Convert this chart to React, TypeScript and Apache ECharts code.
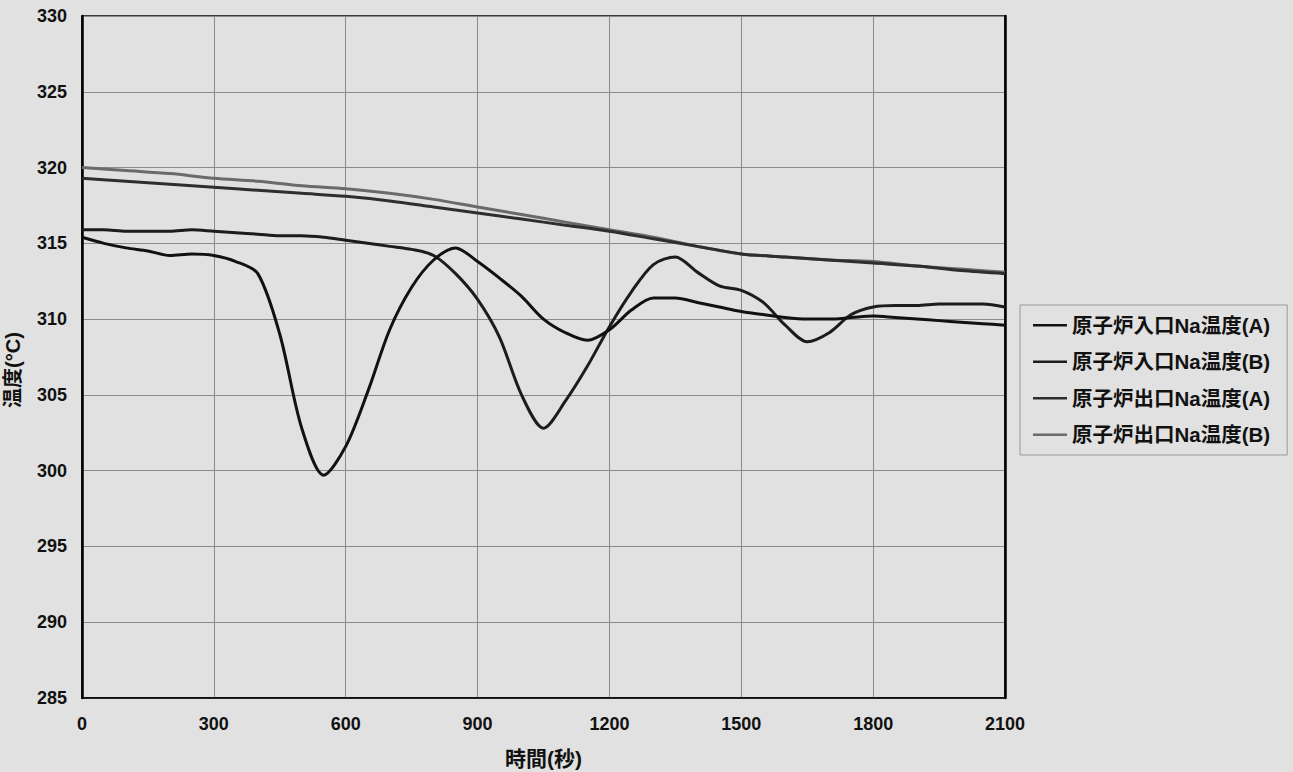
import React, { useEffect, useRef } from "react";
import * as echarts from "echarts";

const seriesNames = [
  "原子炉入口Na温度(A)",
  "原子炉入口Na温度(B)",
  "原子炉出口Na温度(A)",
  "原子炉出口Na温度(B)",
];

// time (s), 50 s steps, for the inlet curves
const timeFine = [
  0, 50, 100, 150, 200, 250, 300, 350, 400, 450, 500, 550, 600, 650, 700, 750, 800, 850, 900, 950, 1000,
  1050, 1100, 1150, 1200, 1250, 1300, 1350, 1400, 1450, 1500, 1550, 1600, 1650, 1700, 1750, 1800, 1850,
  1900, 1950, 2000, 2050, 2100,
];

const inletA = [
  315.4, 315.0, 314.7, 314.5, 314.2, 314.3, 314.2, 313.8, 313.0, 309.0, 302.8, 299.7, 301.6, 305.2, 309.3,
  312.1, 313.9, 314.7, 313.8, 312.7, 311.5, 310.0, 309.1, 308.6, 309.3, 310.6, 311.4, 311.4, 311.1, 310.8,
  310.5, 310.3, 310.1, 310.0, 310.0, 310.1, 310.2, 310.1, 310.0, 309.9, 309.8, 309.7, 309.6,
];

const inletB = [
  315.9, 315.9, 315.8, 315.8, 315.8, 315.9, 315.8, 315.7, 315.6, 315.5, 315.5, 315.4, 315.2, 315.0, 314.8,
  314.6, 314.2, 313.0, 311.3, 308.8, 305.0, 302.8, 304.6, 306.9, 309.5, 311.8, 313.6, 314.1, 313.1, 312.2,
  311.9, 311.1, 309.6, 308.5, 309.1, 310.3, 310.8, 310.9, 310.9, 311.0, 311.0, 311.0, 310.8,
];

// time (s), 100 s steps, for the outlet curves
const timeCoarse = [
  0, 100, 200, 300, 400, 500, 600, 700, 800, 900, 1000, 1100, 1200, 1300, 1400, 1500, 1600, 1700, 1800,
  1900, 2000, 2100,
];

const outletA = [
  319.3, 319.1, 318.9, 318.7, 318.5, 318.3, 318.1, 317.8, 317.4, 317.0, 316.6, 316.2, 315.8, 315.3, 314.8,
  314.3, 314.1, 313.9, 313.7, 313.5, 313.2, 313.0,
];

const outletB = [
  320.0, 319.8, 319.6, 319.3, 319.1, 318.8, 318.6, 318.3, 317.9, 317.4, 316.9, 316.4, 315.9, 315.4, 314.8,
  314.3, 314.1, 313.9, 313.8, 313.5, 313.3, 313.1,
];

const seriesColors = ["#111111", "#1c1c1c", "#2e2e2e", "#6a6a6a"];

const zip = (t: number[], v: number[]) => t.map((x, i) => [x, v[i]]);

const FONT = "'Liberation Sans', 'Noto Sans CJK JP', sans-serif";

export default function App() {
  const ref = useRef<HTMLDivElement>(null);
  useEffect(() => {
    if (!ref.current) return;
    const chart = echarts.init(ref.current, undefined, { renderer: "svg" });
    const dataSets = [zip(timeFine, inletA), zip(timeFine, inletB), zip(timeCoarse, outletA), zip(timeCoarse, outletB)];
    chart.setOption({
      animation: false,
      backgroundColor: "#e1e1e1",
      textStyle: { fontFamily: FONT },
      grid: {
        left: 82,
        top: 16,
        right: 288,
        bottom: 74,
        containLabel: false,
        outerBoundsMode: "none",
        show: true,
        borderColor: "#000",
        borderWidth: 1.5,
        backgroundColor: "transparent",
      },
      legend: {
        orient: "vertical",
        left: 1020,
        top: 305,
        padding: [10, 17, 10, 13],
        itemGap: 16,
        itemWidth: 34,
        itemHeight: 2.5,
        icon: "rect",
        borderColor: "#999",
        borderWidth: 1,
        textStyle: { fontFamily: FONT, fontSize: 20.5, fontWeight: "bold", color: "#111" },
        data: seriesNames,
      },
      xAxis: {
        type: "value",
        min: 0,
        max: 2100,
        interval: 300,
        name: "時間(秒)",
        nameLocation: "middle",
        nameGap: 50,
        nameTextStyle: { fontFamily: FONT, fontSize: 21, fontWeight: "bold", color: "#111" },
        axisLine: { show: true, lineStyle: { color: "#000", width: 1.5 } },
        axisTick: { show: false },
        axisLabel: {
          fontFamily: FONT,
          fontSize: 18,
          fontWeight: "bold",
          color: "#111",
          margin: 17,
          formatter: (v: number) => String(v),
        },
        splitLine: { show: true, lineStyle: { color: "#8a8a8a", width: 1 } },
      },
      yAxis: [
        {
          type: "value",
          min: 285,
          max: 330,
          interval: 5,
          name: "温度(°C)",
          nameLocation: "middle",
          nameRotate: 90,
          nameGap: 59,
          nameTextStyle: { fontFamily: FONT, fontSize: 20, fontWeight: "bold", color: "#111", padding: [0, 26, 0, 0] },
          axisLine: { show: true, lineStyle: { color: "#000", width: 2.5 } },
          axisTick: { show: false },
          axisLabel: {
            fontFamily: FONT,
            fontSize: 18,
            fontWeight: "bold",
            color: "#111",
            margin: 15,
            formatter: (v: number) => String(v),
          },
          splitLine: { show: true, lineStyle: { color: "#8a8a8a", width: 1 } },
        },
        {
          type: "value",
          min: 285,
          max: 330,
          interval: 5,
          position: "right",
          axisLine: { show: true, lineStyle: { color: "#000", width: 2.5 } },
          axisTick: { show: false },
          axisLabel: { show: false },
          splitLine: { show: false },
        },
      ],
      series: seriesNames.map((name, i) => ({
        name,
        type: "line",
        yAxisIndex: 0,
        data: dataSets[i],
        showSymbol: false,
        smooth: 0.3,
        lineStyle: { color: seriesColors[i], width: 3 },
        itemStyle: { color: seriesColors[i] },
        z: 10 - i,
      })),
    });
    return () => chart.dispose();
  }, []);
  return <div ref={ref} style={{ position: "fixed", left: 0, top: 0, width: 1293, height: 772 }} />;
}
